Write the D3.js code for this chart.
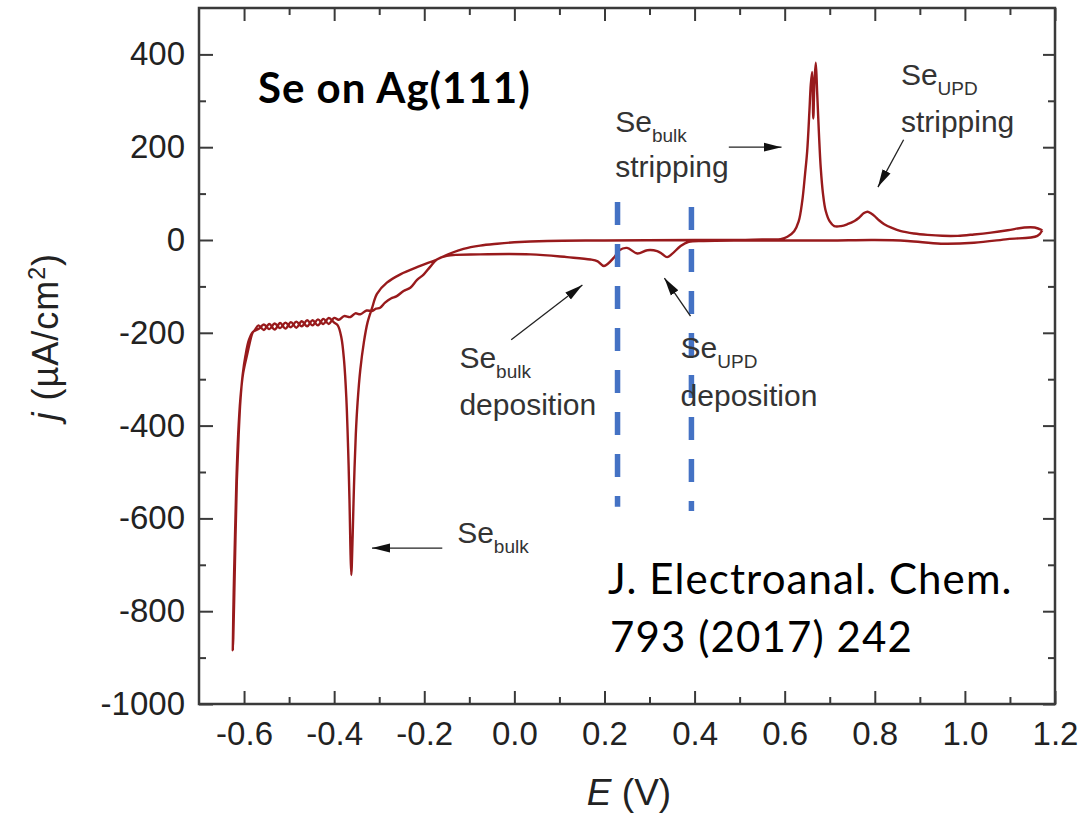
<!DOCTYPE html>
<html>
<head>
<meta charset="utf-8">
<script src="https://cdn.jsdelivr.net/npm/d3@7"></script>
<style>
  body { margin: 0; background: #fff; }
  svg { display: block; }
</style>
</head>
<body>
<script>
// cyclic voltammogram: [E (V), j (uA/cm2)]
// cathodic sweep, from the positive turning point down to -0.63 V
const cathodic = [
  [1.172, 21], [1.161, 9], [1.095, 2], [1.020, -6], [0.947, -8], [0.873, -2],
  [0.80, 0], [0.70, -1], [0.60, -1], [0.50, -1], [0.42, -2], [0.387, -4],
  [0.369, -13], [0.350, -30], [0.339, -37], [0.328, -30], [0.317, -24], [0.295, -22],
  [0.273, -29], [0.250, -17], [0.233, -22], [0.221, -38], [0.199, -56], [0.185, -46],
  [0.169, -42], [0.117, -37], [0.036, -31], [-0.076, -31], [-0.150, -34], [-0.172, -42],
  [-0.187, -58], [-0.201, -74], [-0.216, -86], [-0.231, -103], [-0.246, -110], [-0.261, -121],
  [-0.274, -126], [-0.287, -135], [-0.298, -146], [-0.307, -148], [-0.316, -153], [-0.328, -152],
  [-0.342, -160], [-0.353, -158], [-0.364, -166], [-0.378, -164], [-0.390, -172],
  [-0.400, -168], [-0.412, -181], [-0.424, -170], [-0.436, -184], [-0.448, -173], [-0.460, -186],
  [-0.472, -175], [-0.484, -189], [-0.496, -177], [-0.508, -191], [-0.520, -179], [-0.532, -193],
  [-0.544, -181], [-0.556, -194], [-0.568, -184], [-0.576, -194],
  [-0.581, -200], [-0.585, -212], [-0.592, -242], [-0.602, -287],
  [-0.608, -340], [-0.613, -418], [-0.617, -520], [-0.620, -634], [-0.623, -760], [-0.625, -884]
];
// anodic sweep, back up to the positive turning point
const anodic = [
  [-0.624, -860], [-0.622, -778], [-0.619, -640], [-0.616, -519], [-0.612, -420], [-0.608, -345],
  [-0.603, -290], [-0.597, -250], [-0.589, -215], [-0.580, -198],
  [-0.568, -192], [-0.556, -182], [-0.544, -192], [-0.532, -180], [-0.520, -190], [-0.508, -178],
  [-0.496, -188], [-0.484, -176], [-0.472, -186], [-0.460, -173], [-0.448, -184], [-0.436, -171],
  [-0.424, -181], [-0.412, -168], [-0.400, -178], [-0.392, -184], [-0.384, -210], [-0.378, -260],
  [-0.373, -340], [-0.369, -450], [-0.366, -560], [-0.364, -660], [-0.362, -722], [-0.359, -640],
  [-0.356, -530], [-0.352, -420], [-0.348, -350], [-0.342, -280], [-0.334, -220], [-0.326, -178],
  [-0.316, -147], [-0.305, -116], [-0.283, -92], [-0.253, -74], [-0.209, -56], [-0.172, -42],
  [-0.140, -28], [-0.113, -19], [-0.076, -12], [-0.038, -8], [0.0, -5], [0.073, -2],
  [0.20, -1], [0.40, 0], [0.50, 0], [0.55, 1], [0.575, 1], [0.591, 2], [0.606, 7],
  [0.621, 19], [0.631, 40], [0.639, 84], [0.645, 140], [0.650, 192], [0.655, 280],
  [0.658, 336], [0.661, 362], [0.6635, 262], [0.666, 340], [0.669, 382], [0.672, 320],
  [0.676, 230], [0.680, 156], [0.685, 100], [0.691, 63], [0.700, 40], [0.710, 30],
  [0.725, 30], [0.739, 34], [0.755, 41], [0.765, 48], [0.776, 58], [0.784, 61],
  [0.792, 57], [0.799, 52], [0.810, 42], [0.821, 34], [0.838, 26], [0.858, 19],
  [0.887, 14], [0.917, 11], [0.950, 9], [0.984, 9], [1.020, 12], [1.058, 16],
  [1.095, 21], [1.132, 27], [1.155, 27], [1.172, 21]
];

const xMajor = [-0.6, -0.4, -0.2, 0.0, 0.2, 0.4, 0.6, 0.8, 1.0, 1.2];
const xMinor = [-0.5, -0.3, -0.1, 0.1, 0.3, 0.5, 0.7, 0.9, 1.1];
const yMajor = [-1000, -800, -600, -400, -200, 0, 200, 400];
const yMinor = [-900, -700, -500, -300, -100, 100, 300];

// blue dashed guide lines: [E, j top, j bottom]
const guides = [[0.229, 82, -575], [0.393, 71, -584]];

// annotation labels: [E, j of first line, j of second line, subscript, second line]
const labels = [
  [0.224, 233, 136, "bulk", "stripping"],
  [0.858, 334, 233, "UPD", "stripping"],
  [-0.122, -276, -377, "bulk", "deposition"],
  [0.369, -254, -358, "UPD", "deposition"],
  [-0.127, -653, null, "bulk", null]
];
// arrows: [E from, j from, E to, j to]
const arrows = [
  [0.476, 200, 0.593, 200],
  [0.864, 216, 0.807, 114],
  [-0.007, -215, 0.151, -97],
  [0.391, -164, 0.333, -82],
  [-0.160, -664, -0.316, -664]
];

const width = 1084, height = 819;
const margin = {top: 8, right: 29, bottom: 115, left: 199};

const x = d3.scaleLinear().domain([-0.7, 1.2]).range([margin.left, width - margin.right]);
const y = d3.scaleLinear().domain([-1000, 500]).range([height - margin.bottom, margin.top]);

const svg = d3.select("body").append("svg")
  .attr("width", width)
  .attr("height", height)
  .style("background", "#fff");

const defs = svg.append("defs");
defs.append("marker")
  .attr("id", "head")
  .attr("markerUnits", "userSpaceOnUse")
  .attr("viewBox", "0 -5 18 10")
  .attr("refX", 18).attr("refY", 0)
  .attr("markerWidth", 18).attr("markerHeight", 10)
  .attr("orient", "auto")
  .append("path")
  .attr("d", "M0,-4.5L18,0L0,4.5Z")
  .attr("fill", "#111");

const axisColor = "#3a3a3a";
const fmtX = d => d.toFixed(1);
const fmtY = d => String(d);

function styleAxis(g) {
  g.select(".domain").remove();
  g.selectAll(".tick line").attr("stroke", axisColor).attr("stroke-width", 2);
  g.selectAll(".tick text")
    .attr("fill", "#222")
    .style("font", "33px 'Liberation Sans', Arial, sans-serif");
}

// bottom + top
svg.append("g")
  .attr("transform", `translate(0,${y(-1000)})`)
  .call(d3.axisBottom(x).tickValues(xMajor).tickFormat(fmtX).tickSize(-13).tickPadding(18))
  .call(styleAxis);
svg.append("g")
  .attr("transform", `translate(0,${y(-1000)})`)
  .call(d3.axisBottom(x).tickValues(xMinor).tickFormat("").tickSize(-7))
  .call(styleAxis);
svg.append("g")
  .attr("transform", `translate(0,${y(500)})`)
  .call(d3.axisTop(x).tickValues(xMajor).tickFormat("").tickSize(-13))
  .call(styleAxis);
svg.append("g")
  .attr("transform", `translate(0,${y(500)})`)
  .call(d3.axisTop(x).tickValues(xMinor).tickFormat("").tickSize(-7))
  .call(styleAxis);

// left + right
svg.append("g")
  .attr("transform", `translate(${x(-0.7)},0)`)
  .call(d3.axisLeft(y).tickValues(yMajor).tickFormat(fmtY).tickSize(-14).tickPadding(14))
  .call(styleAxis);
svg.append("g")
  .attr("transform", `translate(${x(-0.7)},0)`)
  .call(d3.axisLeft(y).tickValues(yMinor).tickFormat("").tickSize(-7))
  .call(styleAxis);
svg.append("g")
  .attr("transform", `translate(${x(1.2)},0)`)
  .call(d3.axisRight(y).tickValues(yMajor).tickFormat("").tickSize(-12))
  .call(styleAxis);
svg.append("g")
  .attr("transform", `translate(${x(1.2)},0)`)
  .call(d3.axisRight(y).tickValues(yMinor).tickFormat("").tickSize(-7))
  .call(styleAxis);

// frame
svg.append("rect")
  .attr("x", x(-0.7)).attr("y", y(500))
  .attr("width", x(1.2) - x(-0.7)).attr("height", y(-1000) - y(500))
  .attr("fill", "none")
  .attr("stroke", axisColor)
  .attr("stroke-width", 2.5);

// the CV curve
const line = d3.line()
  .x(d => x(d[0]))
  .y(d => y(d[1]))
  .curve(d3.curveCatmullRom.alpha(0.5));

svg.append("path")
  .datum(cathodic.concat(anodic))
  .attr("d", line)
  .attr("fill", "none")
  .attr("stroke", "#981a1c")
  .attr("stroke-width", 2.4)
  .attr("stroke-linejoin", "round");

// guide lines
svg.append("g").selectAll("line")
  .data(guides)
  .join("line")
  .attr("x1", d => x(d[0])).attr("x2", d => x(d[0]))
  .attr("y1", d => y(d[1])).attr("y2", d => y(d[2]))
  .attr("stroke", "#4472c4")
  .attr("stroke-width", 5.5)
  .attr("stroke-dasharray", "23 19");

// arrows
svg.append("g").selectAll("line")
  .data(arrows)
  .join("line")
  .attr("x1", d => x(d[0])).attr("y1", d => y(d[1]))
  .attr("x2", d => x(d[2])).attr("y2", d => y(d[3]))
  .attr("stroke", "#222")
  .attr("stroke-width", 1.3)
  .attr("marker-end", "url(#head)");

// annotation text
const ann = svg.append("g")
  .attr("fill", "#333")
  .style("font", "30px 'Liberation Sans', Arial, sans-serif");

labels.forEach(d => {
  const t = ann.append("text").attr("x", x(d[0])).attr("y", y(d[1]));
  t.append("tspan").text("Se");
  t.append("tspan").attr("dy", 10).style("font-size", "19px").text(d[3]);
  if (d[4]) {
    ann.append("text").attr("x", x(d[0])).attr("y", y(d[2])).text(d[4]);
  }
});

// title and reference
svg.append("text")
  .attr("x", 258).attr("y", 103)
  .attr("fill", "#000")
  .style("font", "bold 42px Lato, 'Open Sans', sans-serif")
  .style("letter-spacing", "1px")
  .text("Se on Ag(111)");

const ref = svg.append("text")
  .attr("fill", "#000")
  .style("font", "42px Lato, 'Open Sans', sans-serif")
  .style("letter-spacing", "1.1px");
ref.append("tspan").attr("x", 608).attr("y", 594).text("J. Electroanal. Chem.");
ref.append("tspan").attr("x", 610).attr("y", 652).text("793 (2017) 242");

// axis titles
const xt = svg.append("text")
  .attr("x", 629).attr("y", 805)
  .attr("text-anchor", "middle")
  .attr("fill", "#222")
  .style("font", "37px 'Liberation Sans', Arial, sans-serif");
xt.append("tspan").style("font-style", "italic").text("E");
xt.append("tspan").text(" (V)");

const yt = svg.append("text")
  .attr("transform", `translate(58,${y(-200) + 4}) rotate(-90)`)
  .attr("text-anchor", "middle")
  .attr("fill", "#222")
  .style("font", "36px 'Liberation Sans', Arial, sans-serif")
  .style("letter-spacing", "1px");
yt.append("tspan").style("font-style", "italic").text("j");
yt.append("tspan").text(" (\u00b5A/cm");
yt.append("tspan").attr("dy", -13).style("font-size", "23px").text("2");
yt.append("tspan").attr("dy", 13).text(")");
</script>
</body>
</html>
